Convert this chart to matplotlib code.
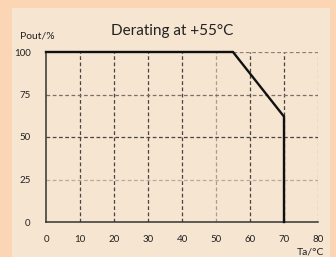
import matplotlib
matplotlib.use("Agg")
import matplotlib.pyplot as plt

plt.rcParams["font.family"] = ["Lato", "DejaVu Sans"]

# Data
curve_ta = [0, 55, 70, 70]
curve_pout = [100, 100, 62, 0]
x_ticks = [0, 10, 20, 30, 40, 50, 60, 70, 80]
y_ticks = [0, 25, 50, 75, 100]
dark_vgrid = [10, 20, 30, 40, 60, 70]
light_vgrid = [50, 80]
hgrid_styles = {25: "#b8ab9c", 50: "#4a4540", 75: "#7a7068"}

OUTER = "#fcd6b4"
INNER = "#f5e5d1"
TEXT = "#222222"

fig = plt.figure(figsize=(3.36, 2.57), dpi=100)
fig.patch.set_facecolor(OUTER)

# lighter inner panel
bg = fig.add_axes([12 / 336, 0, 318 / 336, 249 / 257], zorder=0)
bg.set_axis_off()
bg.add_patch(plt.Rectangle((0, 0), 1, 1, transform=bg.transAxes,
                           facecolor=INNER, edgecolor="none"))

ax = fig.add_axes([46 / 336, 35 / 257, 272 / 336, 170 / 257], zorder=1)
ax.set_facecolor("none")
ax.set_xlim(0, 80)
ax.set_ylim(0, 100)

# grid
for x in dark_vgrid:
    ax.plot([x, x], [0, 100], color="#4a4540", lw=0.9, ls=(0, (3, 2)), zorder=1)
for x in light_vgrid:
    ax.plot([x, x], [0, 100], color="#a89c8e", lw=0.9, ls=(0, (3, 2)), zorder=1)
for y, c in hgrid_styles.items():
    ax.plot([0, 80], [y, y], color=c, lw=0.9, ls=(0, (3, 2)), zorder=1)
ax.plot([55, 80], [100, 100], color="#8a8078", lw=0.9, ls=(0, (3, 2)), zorder=1)

ax.plot(curve_ta, curve_pout, color="#111111", lw=1.7, zorder=3,
        solid_joinstyle="miter", clip_on=False)

for s in ["top", "right"]:
    ax.spines[s].set_visible(False)
for s in ["left", "bottom"]:
    ax.spines[s].set_color("#333333")
    ax.spines[s].set_linewidth(1.1)

ax.set_xticks(x_ticks)
ax.set_yticks(y_ticks)
ax.tick_params(length=0, labelsize=7, colors=TEXT, pad=9)
ax.tick_params(axis="y", pad=11)

fig.text(172 / 336, 1 - 31 / 257, "Derating at +55°C", ha="center", va="center",
         fontsize=11, color=TEXT)
fig.text(20 / 336, 1 - 36 / 257, "Pout/%", ha="left", va="center",
         fontsize=7.5, color=TEXT)
fig.text(324 / 336, 1 - 252 / 257, "Ta/°C", ha="right", va="center",
         fontsize=7.5, color=TEXT)

fig.savefig("out.png", dpi=100, facecolor=OUTER)
